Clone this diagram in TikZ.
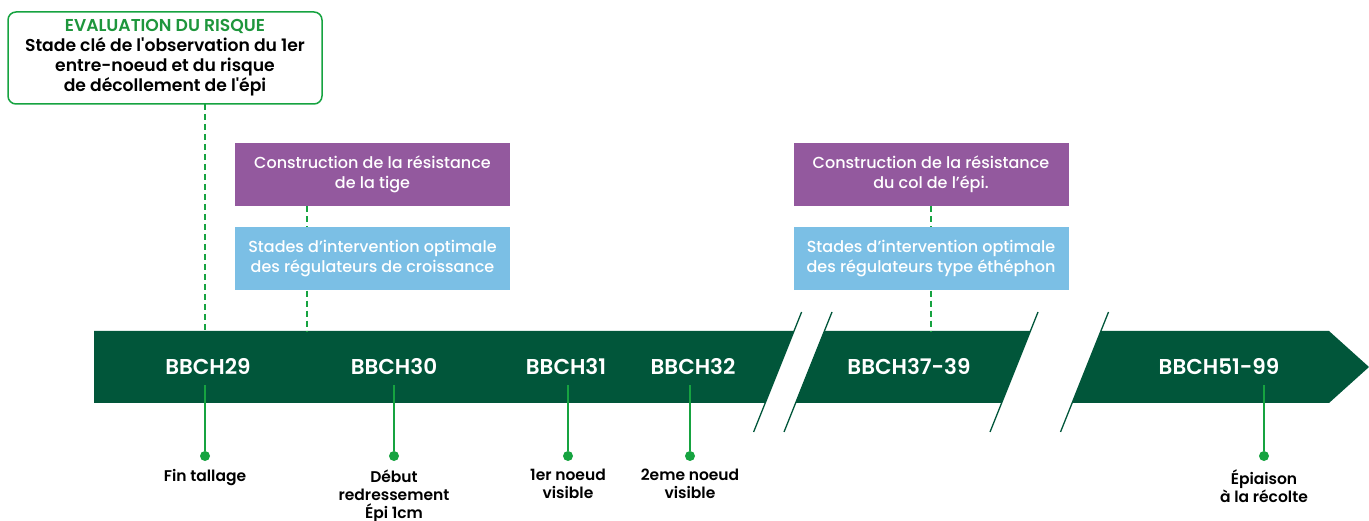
\documentclass[tikz,border=0pt]{standalone}
\usepackage{fontspec}
\setmainfont{Poppins}[UprightFont=* Medium, BoldFont=* SemiBold]
\usetikzlibrary{positioning}
\definecolor{Band}{RGB}{1, 86, 58}
\definecolor{Stem}{RGB}{147, 89, 158}
\definecolor{Regul}{RGB}{123, 191, 229}
\definecolor{Mark}{RGB}{22, 163, 64}
\definecolor{Risk}{RGB}{30, 150, 60}

\tikzset{
  boxtext/.style={inner sep=0pt, align=center, text=white,
    minimum width=275pt, minimum height=63pt,
    font=\fontsize{16}{20}\selectfont},
  stemcol/.style={boxtext, fill=Stem},
  regulcol/.style={boxtext, fill=Regul},
  stage/.style={text=white, font=\fontsize{21.5}{22}\selectfont\bfseries},
  dot/.style={circle, fill=Mark, inner sep=0pt, minimum size=10pt},
  lab/.style={below=8pt of #1, inner sep=0pt, align=center,
    font=\fontsize{15.5}{18}\selectfont\bfseries},
  tick/.style={Mark, line width=2pt},
  dashline/.style={Mark, line width=2pt, dash pattern=on 6pt off 4pt},
  slash/.style={Band, line width=1.3pt}
}

\begin{document}
\begin{tikzpicture}[x=1pt, y=-1pt]
    %% Background
    \useasboundingbox (0,0) rectangle (1369,521);

    \coordinate (bandtop) at (0,331);
    \coordinate (tickstart) at (0,385);

    %% Timeline band
    \fill[Band] (94,331) -- (794,331) -- (765.2,403) -- (94,403) -- cycle;
    \fill[Band] (824.4,331) -- (1030.4,331) -- (1001.6,403) -- (795.6,403) -- cycle;
    \fill[Band] (1100.9,331) -- (1329,331) -- (1369,367) -- (1329,403) -- (1072.1,403) -- cycle;
    \draw[slash]
    (801.6,312) to (753.6,432)
    (832,312) to (784,432)
    (1038,312) to (990,432)
    (1108.5,312) to (1060.5,432)
    ;

    %% Stages
    \node[stage] (b29) at (208,367) {BBCH29};
    \node[stage] (b30) at (394,367) {BBCH30};
    \node[stage] (b31) at (566,367) {BBCH31};
    \node[stage] (b32) at (693,367) {BBCH32};
    \node[stage] (b37) at (909,367) {BBCH37-39};
    \node[stage] (b51) at (1219,367) {BBCH51-99};

    %% Markers
    \node[dot] (d29) at (205,456) {};
    \node[dot] (d30) at (394,456) {};
    \node[dot] (d31) at (568,456) {};
    \node[dot] (d32) at (690,456) {};
    \node[dot] (d51) at (1264,456) {};
    \foreach \d in {d29,d30,d31,d32,d51}
      \draw[tick] (\d) -- (\d |- tickstart);

    \node[lab=d29] (l29) {Fin tallage};
    \node[lab=d30] (l30) {Début\\redressement\\Épi 1cm};
    \node[lab=d31] (l31) {1er noeud\\visible};
    \node[lab=d32] (l32) {2eme noeud\\visible};
    \node[lab=d51] (l51) {Épiaison\\à la récolte};

    %% Risk box
    \node[draw=Mark, line width=1.5pt, rounded corners=8pt,
      minimum width=314pt, minimum height=92pt, inner sep=0pt, align=center,
      font=\fontsize{17.2}{20}\selectfont\bfseries] (risque) at (165,58)
      {{\color{Risk}EVALUATION DU RISQUE}\\Stade clé de l\textquotesingle observation du 1er\\
       entre-noeud et du risque\\de décollement de l\textquotesingle épi};
    \coordinate (risquefoot) at (205,104);
    \draw[dashline] (risquefoot) -- (risquefoot |- bandtop);

    %% Regulators, first window
    \node[stemcol] (tige) at (372.5,174.5) {Construction de la résistance\\de la tige};
    \node[regulcol] (croiss) at (372.5,259) {Stades d’intervention optimale\\des régulateurs de croissance};
    \draw[dashline] (tige.south -| 307,0) -- (croiss.north -| 307,0);
    \draw[dashline] (croiss.south -| 307,0) -- (bandtop -| 307,0);

    %% Regulators, second window
    \node[stemcol] (col) at (931,174.5) {Construction de la résistance\\du col de l’épi.};
    \node[regulcol] (ethe) at (931,259) {Stades d’intervention optimale\\des régulateurs type éthéphon};
    \draw[dashline] (col) -- (ethe);
    \draw[dashline] (ethe) -- (ethe |- bandtop);
\end{tikzpicture}
\end{document}
